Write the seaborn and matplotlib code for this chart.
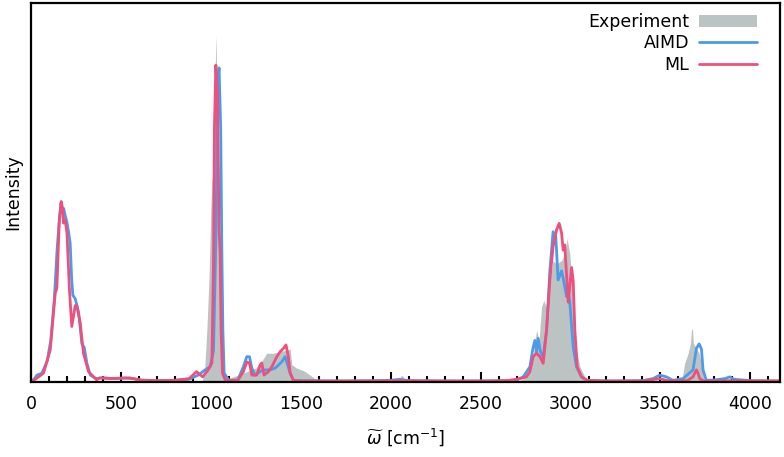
import numpy as np
import pandas as pd
import matplotlib
matplotlib.use("Agg")
import matplotlib.pyplot as plt
import seaborn as sns
from matplotlib.ticker import MultipleLocator
from matplotlib.patches import Patch
from matplotlib.lines import Line2D

# ---------------- data ----------------
exp_x = [0, 900, 950, 965, 978, 990, 1000, 1006, 1012, 1020, 1026, 1029, 1032, 1040, 1050,
         1060, 1070, 1080, 1098, 1150, 1200, 1250, 1283, 1311, 1348, 1376, 1422, 1441, 1450,
         1478, 1515, 1552, 1590, 1620, 2040, 2060, 2070, 2080, 2100, 2700, 2740, 2770, 2792,
         2811, 2825, 2839, 2852, 2867, 2885, 2903, 2922, 2950, 2968, 2981, 2996, 3015, 3033,
         3052, 3080, 3107, 3500, 3520, 3540, 3560, 3617, 3635, 3654, 3667, 3672, 3678, 3683,
         3696, 3715, 3728, 3741, 3760, 4160]
exp_y = [0, 0, 0.0, 0.03, 0.15, 0.30, 0.50, 0.58, 0.60, 0.65, 0.95, 1.00, 0.90, 0.60, 0.35,
         0.15, 0.05, 0.01, 0.01, 0.02, 0.03, 0.04, 0.06, 0.083, 0.083, 0.087, 0.092, 0.095, 0.05,
         0.04, 0.033, 0.02, 0.005, 0.0, 0.0, 0.02, 0.015, 0.0, 0.0, 0.0, 0.01, 0.03, 0.073,
         0.15, 0.12, 0.217, 0.236, 0.21, 0.29, 0.35, 0.34, 0.35, 0.37, 0.414, 0.37, 0.23, 0.092,
         0.044, 0.015, 0.0, 0.0, 0.01, 0.008, 0.0, 0.0, 0.055, 0.083, 0.112, 0.15, 0.153, 0.112,
         0.10, 0.083, 0.05, 0.01, 0.0, 0.0]

aimd_x = [0, 20, 33, 60, 90, 110, 130, 145, 158, 167, 175, 182, 190, 200, 210, 218, 226, 233,
          246, 256, 265, 275, 283, 296, 311, 330, 360, 400, 470, 550, 600, 700, 800, 880, 930,
          968, 996, 1015, 1029, 1039, 1046, 1055, 1061, 1067, 1074, 1100, 1150, 1181, 1200,
          1215, 1228, 1246, 1274, 1292, 1330, 1357, 1376, 1394, 1413, 1422, 1441, 1459, 1500,
          1700, 1900, 2000, 2050, 2100, 2300, 2500, 2650, 2700, 2737, 2774, 2792, 2802, 2811,
          2820, 2833, 2848, 2867, 2885, 2903, 2918, 2931, 2950, 2959, 2978, 2987, 2996, 3015,
          3033, 3061, 3090, 3200, 3400, 3459, 3496, 3533, 3570, 3626, 3681, 3700, 3715, 3728,
          3737, 3755, 3800, 3860, 3885, 3910, 4000, 4160]
aimd_y = [0.0, 0.01, 0.02, 0.025, 0.06, 0.12, 0.24, 0.38, 0.47, 0.515, 0.49, 0.50, 0.48, 0.46,
          0.43, 0.40, 0.30, 0.25, 0.24, 0.22, 0.20, 0.15, 0.11, 0.10, 0.054, 0.02, 0.01, 0.012,
          0.01, 0.012, 0.006, 0.004, 0.005, 0.008, 0.02, 0.035, 0.044, 0.09, 0.44, 0.87, 0.905,
          0.73, 0.39, 0.15, 0.026, 0.005, 0.006, 0.044, 0.073, 0.073, 0.04, 0.02, 0.03, 0.035,
          0.035, 0.04, 0.049, 0.058, 0.073, 0.058, 0.026, 0.005, 0.004, 0.003, 0.004, 0.005,
          0.008, 0.004, 0.003, 0.003, 0.004, 0.005, 0.015, 0.044, 0.10, 0.12, 0.087, 0.126,
          0.087, 0.073, 0.15, 0.32, 0.433, 0.42, 0.294, 0.32, 0.30, 0.246, 0.26, 0.23, 0.10,
          0.044, 0.015, 0.005, 0.003, 0.004, 0.01, 0.02, 0.015, 0.005, 0.01, 0.035, 0.097, 0.11,
          0.095, 0.035, 0.005, 0.006, 0.01, 0.015, 0.008, 0.004, 0.003]

ml_x = [0, 30, 70, 107, 135, 144, 157, 168, 176, 181, 190, 200, 214, 227, 246, 255, 274, 292,
        320, 366, 380, 450, 520, 570, 620, 700, 800, 880, 920, 955, 985, 1006, 1015, 1020, 1028,
        1037, 1046, 1052, 1057, 1065, 1081, 1150, 1181, 1200, 1215, 1228, 1255, 1274, 1283, 1296,
        1320, 1339, 1367, 1385, 1404, 1418, 1431, 1441, 1459, 1500, 1700, 1900, 2050, 2300,
        2500, 2650, 2718, 2755, 2774, 2792, 2811, 2830, 2848, 2867, 2885, 2903, 2922, 2937,
        2950, 2959, 2968, 2987, 3006, 3015, 3024, 3037, 3061, 3090, 3200, 3400, 3496, 3540,
        3650, 3681, 3700, 3709, 3718, 3740, 3900, 4160]
ml_y = [0.0, 0.01, 0.026, 0.092, 0.256, 0.27, 0.458, 0.52, 0.50, 0.458, 0.467, 0.43, 0.265,
        0.16, 0.22, 0.22, 0.17, 0.083, 0.03, 0.006, 0.012, 0.01, 0.012, 0.01, 0.005, 0.004,
        0.005, 0.01, 0.03, 0.015, 0.035, 0.055, 0.34, 0.73, 0.913, 0.82, 0.44, 0.37, 0.15, 0.025,
        0.005, 0.005, 0.03, 0.058, 0.055, 0.02, 0.02, 0.049, 0.055, 0.02, 0.03, 0.044, 0.073,
        0.087, 0.097, 0.107, 0.073, 0.026, 0.005, 0.003, 0.003, 0.003, 0.004, 0.003, 0.003,
        0.004, 0.01, 0.015, 0.03, 0.073, 0.083, 0.073, 0.054, 0.15, 0.294, 0.39, 0.438, 0.457,
        0.43, 0.38, 0.395, 0.23, 0.33, 0.29, 0.15, 0.044, 0.015, 0.005, 0.003, 0.003, 0.01,
        0.004, 0.004, 0.015, 0.035, 0.025, 0.01, 0.003, 0.004, 0.003]

labels = ["Experiment", "AIMD", "ML"]
colors = {"Experiment": "#bcc3c3", "AIMD": "#4c9be8", "ML": "#ee4f7c"}

# ---------------- figure ----------------
sns.set_theme(style="white")
plt.rcParams["font.family"] = ["DejaVu Sans"]
plt.rcParams["text.color"] = "black"
plt.rcParams["axes.labelcolor"] = "black"
plt.rcParams["xtick.color"] = "black"
plt.rcParams["mathtext.fontset"] = "dejavusans"

fig = plt.figure(figsize=(7.84, 4.57), dpi=100)
ax = fig.add_axes([0.0395, 0.164, 0.955, 0.8295])

ax.fill_between(exp_x, exp_y, 0, color=colors["Experiment"], linewidth=0, zorder=1)

df = pd.concat([
    pd.DataFrame({"w": aimd_x, "I": aimd_y, "src": "AIMD"}),
    pd.DataFrame({"w": ml_x, "I": ml_y, "src": "ML"}),
])
sns.lineplot(data=df, x="w", y="I", hue="src", hue_order=["AIMD", "ML"],
             palette=colors, linewidth=2.0, ax=ax, legend=False, sort=False,
             estimator=None, zorder=2)
for ln in ax.lines:
    ln.set_solid_joinstyle("round")

ax.set_xlim(0, 4163)
ax.set_ylim(0, 1.092)
ax.set_yticks([])
ax.xaxis.set_major_locator(MultipleLocator(500))
ax.xaxis.set_minor_locator(MultipleLocator(100))
ax.tick_params(axis="x", which="major", direction="in", length=7, width=1.5,
               labelsize=12.5, pad=9, bottom=True, color="black", labelcolor="black")
ax.tick_params(axis="x", which="minor", direction="in", length=4, width=1.5,
               bottom=True, color="black")
for s in ax.spines.values():
    s.set_color("black")
    s.set_linewidth(1.6)

ax.set_xlabel(r"$\widetilde{\omega}$ [cm$^{-1}$]", fontsize=12.5, labelpad=10, color="black")
ax.set_ylabel("Intensity", fontsize=12.5, labelpad=6, color="black")

handles = [Patch(facecolor=colors["Experiment"], edgecolor="none"),
           Line2D([], [], color=colors["AIMD"], linewidth=2.0),
           Line2D([], [], color=colors["ML"], linewidth=2.0)]
leg = ax.legend(handles, labels, loc="upper right", bbox_to_anchor=(0.99, 1.015),
                frameon=False, markerfirst=False, fontsize=12.5, handlelength=3.3,
                handletextpad=0.6, labelspacing=0.2)
for t in leg.get_texts():
    t.set_color("black")

fig.savefig("out.png", dpi=100)
